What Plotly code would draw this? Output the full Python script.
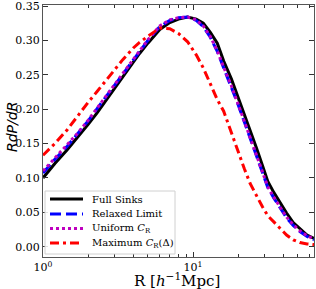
import plotly.graph_objects as go

R = [1.0, 1.2, 1.45, 1.7, 2.0, 2.3, 2.8, 3.4, 4.0, 4.4, 5.0, 6.0, 7.0, 8.0, 9.2,
     10.5, 11.7, 13.0, 14.5, 16.0, 18.0, 20.0, 22.0, 24.0, 26.5, 29.0, 31.5, 34.5,
     38.0, 42.0, 46.5, 51.5, 57.5, 64.0]

full_sinks = [0.100, 0.121, 0.141, 0.159, 0.178, 0.195, 0.221, 0.247, 0.268, 0.281,
              0.296, 0.316, 0.326, 0.331, 0.334, 0.331, 0.325, 0.312, 0.296, 0.270,
              0.244, 0.217, 0.193, 0.170, 0.143, 0.118, 0.095, 0.079, 0.064, 0.049,
              0.035, 0.026, 0.017, 0.012]

relaxed = [0.107, 0.127, 0.146, 0.164, 0.183, 0.201, 0.226, 0.252, 0.272, 0.285,
           0.300, 0.320, 0.329, 0.333, 0.334, 0.329, 0.320, 0.305, 0.284, 0.260,
           0.233, 0.206, 0.181, 0.158, 0.131, 0.106, 0.086, 0.071, 0.057, 0.042,
           0.031, 0.022, 0.015, 0.010]

uniform = [0.110, 0.129, 0.148, 0.165, 0.184, 0.202, 0.227, 0.253, 0.273, 0.286,
           0.301, 0.321, 0.330, 0.333, 0.334, 0.330, 0.321, 0.306, 0.285, 0.261,
           0.234, 0.207, 0.182, 0.159, 0.132, 0.107, 0.087, 0.072, 0.058, 0.043,
           0.032, 0.023, 0.016, 0.011]

maximum = [0.133, 0.150, 0.170, 0.190, 0.210, 0.226, 0.250, 0.272, 0.289, 0.297,
           0.306, 0.318, 0.317, 0.310, 0.298, 0.279, 0.260, 0.238, 0.214, 0.197,
           0.165, 0.137, 0.113, 0.092, 0.073, 0.058, 0.045, 0.036, 0.026, 0.017,
           0.010, 0.006, 0.004, 0.003]

labels = ["Full Sinks", "Relaxed Limit", "Uniform <i>C</i><sub>R</sub>",
          "Maximum <i>C</i><sub>R</sub>(Δ)"]

x_tickvals = [1, 10]
x_ticktext = ["10<sup>0</sup>", "10<sup>1</sup>"]
x_minor = [2, 3, 4, 5, 6, 7, 8, 9, 20, 30, 40, 50, 60]
y_tickvals = [0.00, 0.05, 0.10, 0.15, 0.20, 0.25, 0.30, 0.35]
y_ticktext = ["0.00", "0.05", "0.10", "0.15", "0.20", "0.25", "0.30", "0.35"]

serif = "DejaVu Serif, Liberation Serif, serif"
W, H = 316, 289
ML, MR, MT, MB = 43, 2, 5, 32
PW, PH = W - ML - MR, H - MT - MB


def px(xp):
    return (xp - ML) / PW


def py(yp):
    return (H - MB - yp) / PH


series = [full_sinks, relaxed, uniform, maximum]
styles = [dict(color="black", width=3),
          dict(color="#0000ff", width=3, dash="11px,5px"),
          dict(color="#bf00bf", width=3, dash="3px,3px"),
          dict(color="#ff0000", width=3, dash="9px,4px,3px,4px")]

fig = go.Figure()
for vals, st, lab in zip(series, styles, labels):
    fig.add_trace(go.Scatter(x=R, y=vals, mode="lines", name=lab, line=st,
                             showlegend=False))

# manual legend (compact, like the reference)
shapes = [dict(type="rect", xref="paper", yref="paper",
               x0=px(45), x1=px(175), y0=py(254), y1=py(191),
               line=dict(color="#d0d0d0", width=1),
               fillcolor="rgba(255,255,255,0.85)", layer="above")]
annotations = []
entry_y = [199, 214, 228.5, 243]
for st, lab, ey in zip(styles, labels, entry_y):
    shapes.append(dict(type="line", xref="paper", yref="paper",
                       x0=px(50), x1=px(83), y0=py(ey), y1=py(ey),
                       line=st, layer="above"))
    annotations.append(dict(text=lab, xref="paper", yref="paper",
                            x=px(90), y=py(ey), xanchor="left", yanchor="middle",
                            showarrow=False, font=dict(family=serif, size=10)))

annotations.append(dict(text="R [<i>h</i><sup>−1</sup>Mpc]", xref="paper", yref="paper",
                        x=px(177), y=py(280), xanchor="center", yanchor="middle",
                        showarrow=False, font=dict(family=serif, size=15)))
annotations.append(dict(text="<i>RdP/dR</i>", xref="paper", yref="paper",
                        x=px(12), y=py(127), xanchor="center", yanchor="middle",
                        showarrow=False, textangle=-90,
                        font=dict(family="DejaVu Sans, sans-serif", size=14)))

fig.update_layout(
    width=W, height=H,
    margin=dict(l=ML, r=MR, t=MT, b=MB, autoexpand=False),
    plot_bgcolor="white", paper_bgcolor="white",
    font=dict(family=serif, size=11, color="black"),
    showlegend=False,
    shapes=shapes,
    annotations=annotations,
)
fig.update_xaxes(
    type="log", range=[0, 1.806], automargin=False,
    tickvals=x_tickvals, ticktext=x_ticktext,
    ticks="inside", ticklen=5, tickwidth=1, tickcolor="#333",
    mirror="allticks", showline=True, linecolor="#555", linewidth=1,
    showgrid=False, zeroline=False, ticklabeloverflow="allow",
    minor=dict(ticks="inside", ticklen=3, tickcolor="#333", showgrid=False,
               tickvals=x_minor),
    tickfont=dict(family=serif, size=11),
)
fig.update_yaxes(
    range=[-0.015, 0.3515], automargin=False,
    tickvals=y_tickvals, ticktext=y_ticktext,
    ticks="inside", ticklen=5, tickwidth=1, tickcolor="#333",
    mirror="allticks", showline=True, linecolor="#555", linewidth=1,
    showgrid=False, zeroline=False, ticklabeloverflow="allow",
    tickfont=dict(family=serif, size=11),
)

fig.write_html("out.html", config={"displayModeBar": False},
               post_script="document.body.style.margin='0';document.body.style.overflow='hidden';")
